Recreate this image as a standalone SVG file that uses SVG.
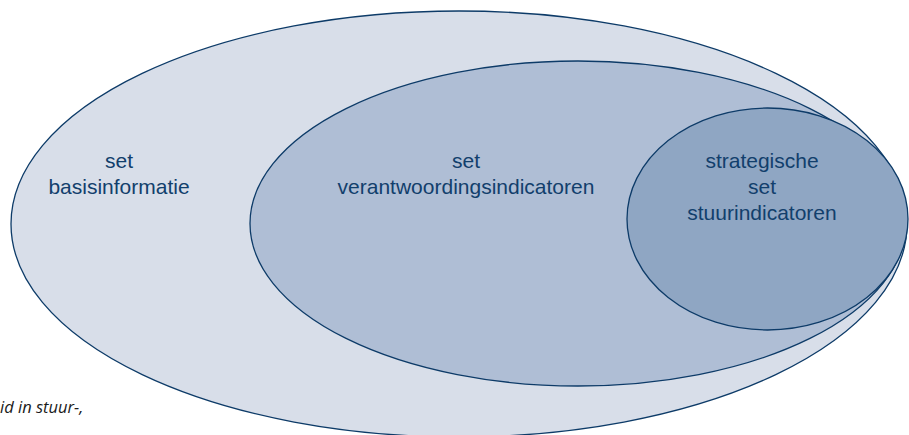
<svg xmlns="http://www.w3.org/2000/svg" width="909" height="435" viewBox="0 0 909 435">
<style>
.ring{stroke:#0d3b68;stroke-width:1.3}
.lbl{font-family:"Liberation Sans",Arial,Helvetica,sans-serif;font-size:21px;fill:#123f6c;text-anchor:middle}
.note{font-family:"Open Sans","Liberation Sans",sans-serif;font-style:italic;font-size:16.5px;fill:#1a1a1a}
</style>
<rect width="909" height="435" fill="#ffffff"/>
<g id="basisinformatie">
<ellipse class="ring" cx="459" cy="224" rx="448" ry="213" fill="#d8dee9"/>
<text class="lbl" x="119" y="168">set</text>
<text class="lbl" x="119" y="194">basisinformatie</text>
</g>
<g id="verantwoordingsindicatoren">
<ellipse class="ring" cx="578" cy="223.5" rx="328" ry="162.5" fill="#afbed5"/>
<text class="lbl" x="466" y="168">set</text>
<text class="lbl" x="466" y="194">verantwoordingsindicatoren</text>
</g>
<g id="stuurindicatoren">
<ellipse class="ring" cx="767.5" cy="219" rx="140.5" ry="111" fill="#8fa6c3"/>
<text class="lbl" x="762" y="168">strategische</text>
<text class="lbl" x="762" y="194">set</text>
<text class="lbl" x="762" y="220">stuurindicatoren</text>
</g>
<g id="connectors"></g>
<text class="note" x="0" y="413">id in stuur-,</text>
</svg>
